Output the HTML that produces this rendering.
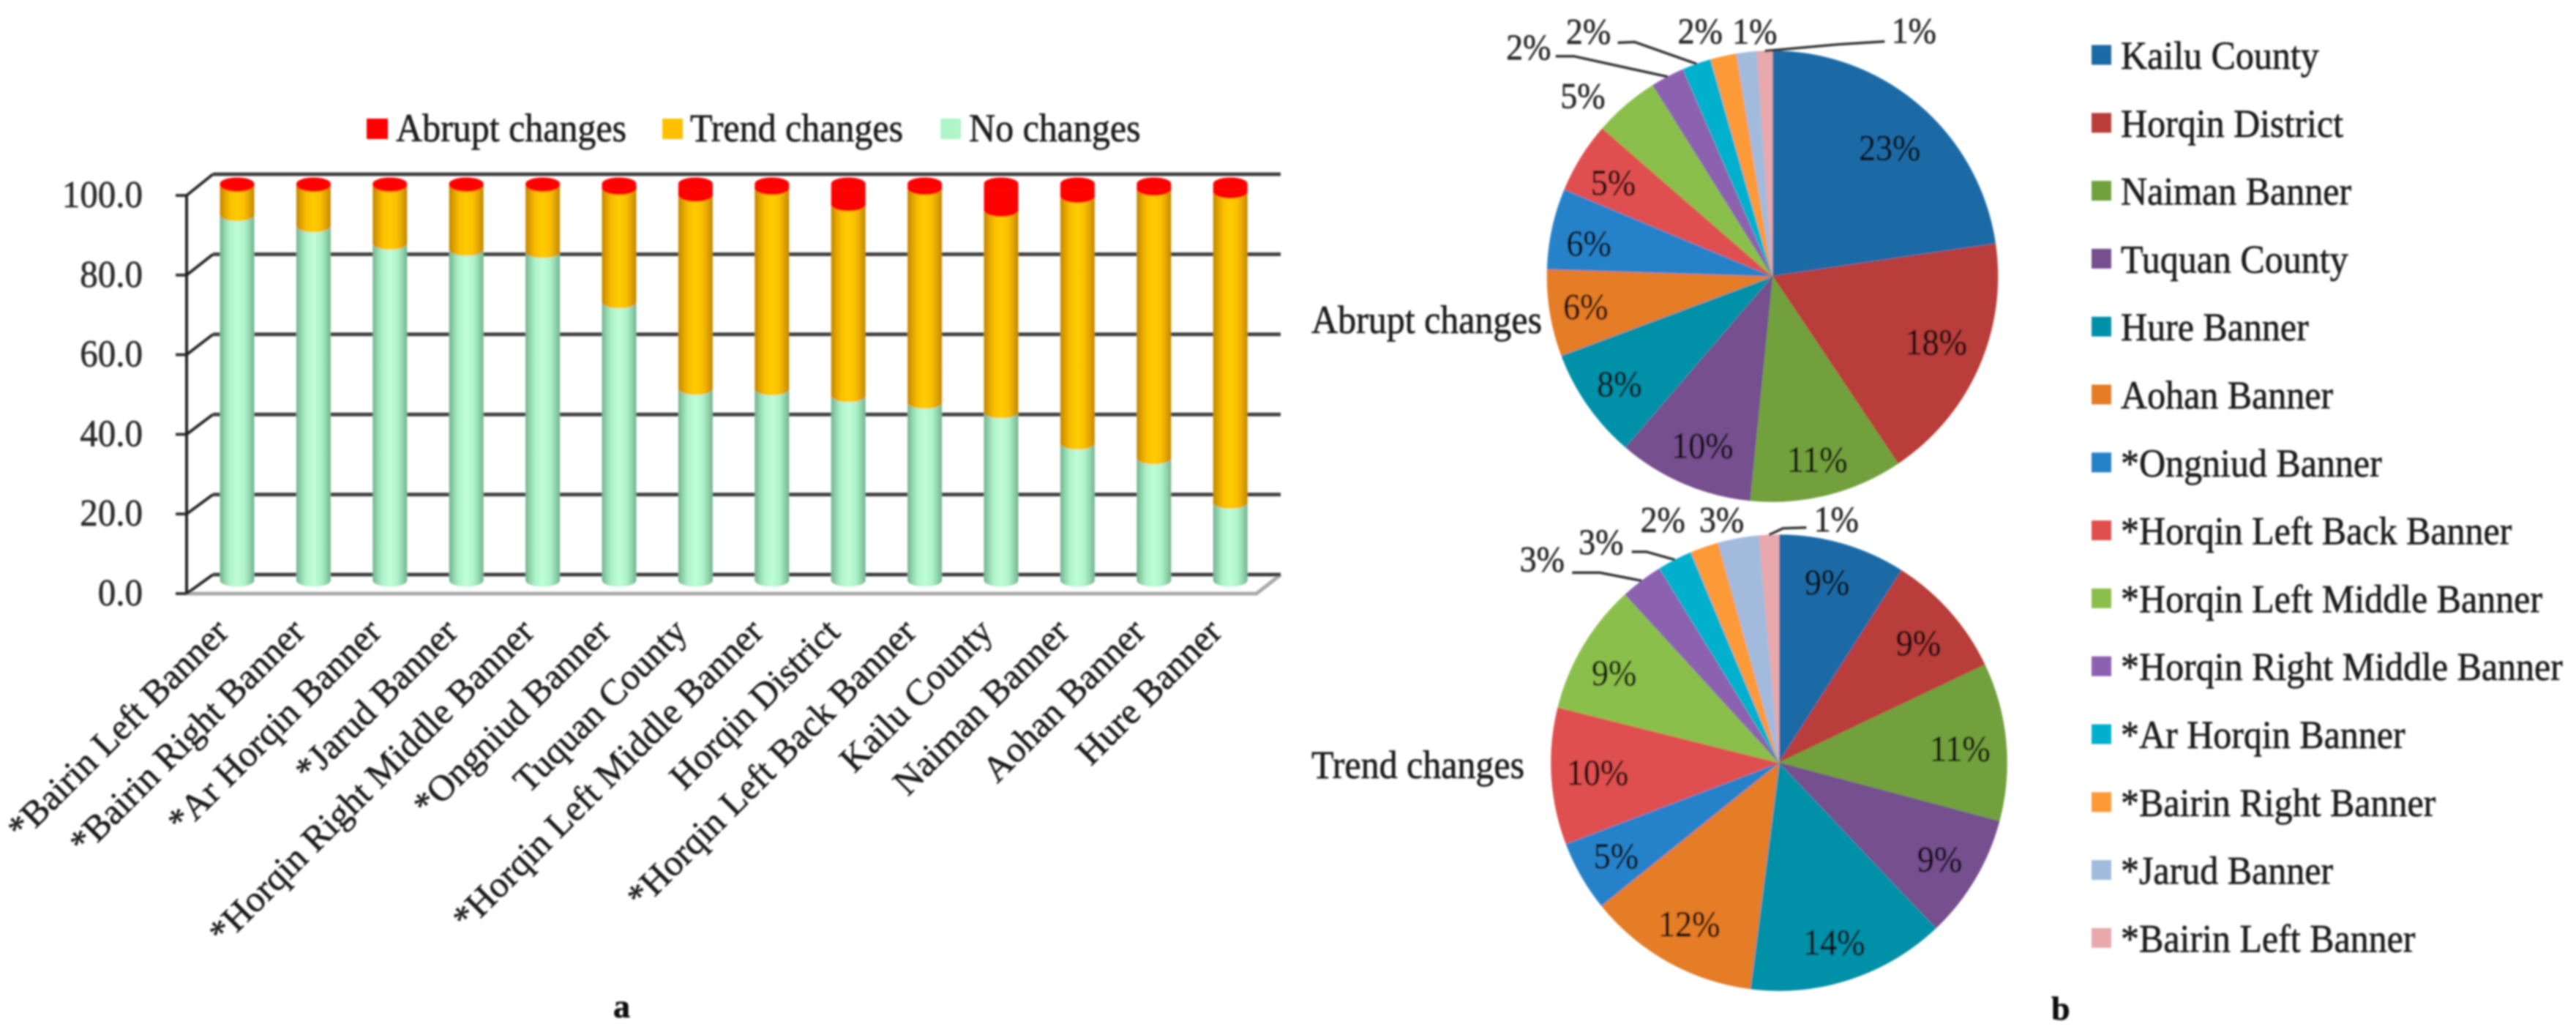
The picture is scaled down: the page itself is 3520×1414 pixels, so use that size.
<!DOCTYPE html>
<html lang="en">
<head>
<meta charset="utf-8">
<title>Abrupt and trend changes by banner and county</title>
<style>
html,body{margin:0;padding:0;background:#fff;width:3520px;height:1414px;overflow:hidden}
svg{display:block}
text{font-family:"Liberation Serif",serif;stroke-width:.6;paint-order:stroke}
</style>
</head>
<body>
<svg id="figure" xmlns="http://www.w3.org/2000/svg" width="3520" height="1414" viewBox="0 0 3520 1414">
<defs>
<filter id="soften" x="0" y="0" width="3520" height="1414" filterUnits="userSpaceOnUse"><feGaussianBlur stdDeviation="1.4"/></filter>
<linearGradient id="grad-none" x1="0" x2="1" y1="0" y2="0"><stop offset="0" stop-color="#74b28e"/><stop offset=".14" stop-color="#92d6ae"/><stop offset=".28" stop-color="#aef2ca"/><stop offset=".5" stop-color="#bffdd8"/><stop offset=".72" stop-color="#aef2ca"/><stop offset=".86" stop-color="#92d6ae"/><stop offset="1" stop-color="#74b28e"/></linearGradient>
<linearGradient id="grad-trend" x1="0" x2="1" y1="0" y2="0"><stop offset="0" stop-color="#bf8700"/><stop offset=".14" stop-color="#e0a300"/><stop offset=".3" stop-color="#fabf00"/><stop offset=".5" stop-color="#ffcc00"/><stop offset=".7" stop-color="#fabf00"/><stop offset=".86" stop-color="#e0a300"/><stop offset="1" stop-color="#bf8700"/></linearGradient>
</defs>
<g id="root" filter="url(#soften)"></g>
</svg>
<script>
// ---- Panel a data ----
const barCategories = ["*Bairin Left Banner","*Bairin Right Banner","*Ar Horqin Banner","*Jarud Banner","*Horqin Right Middle Banner","*Ongniud Banner","Tuquan County","*Horqin Left Middle Banner","Horqin District","*Horqin Left Back Banner","Kailu County","Naiman Banner","Aohan Banner","Hure Banner"];
const noChanges = [92.1,89.3,84.9,83.4,82.8,70.1,48.3,48.2,46.5,44.8,42.4,34.5,30.8,19.6];
const trendChanges = [7.4,10.2,14.6,16.1,16.7,28.6,48.7,50.5,48.1,53.9,50.8,62.2,67.7,78.2];
const abruptChanges = [0.5,0.5,0.5,0.5,0.5,1.3,3.0,1.3,5.4,1.3,6.8,3.3,1.5,2.2];
const yTicks = [0,20,40,60,80,100];
const barLegendLabels = ["Abrupt changes","Trend changes","No changes"];

// ---- Panel b data ----
const pieCategories = ["Kailu County","Horqin District","Naiman Banner","Tuquan County","Hure Banner","Aohan Banner","*Ongniud Banner","*Horqin Left Back Banner","*Horqin Left Middle Banner","*Horqin Right Middle Banner","*Ar Horqin Banner","*Bairin Right Banner","*Jarud Banner","*Bairin Left Banner"];
const abruptShares = [22.7,17.9,11,9.7,8,6.2,5.8,5.1,4.7,2.4,2.1,1.85,1.45,1.1];
const trendShares = [9.05,8.9,11.2,8.8,14.1,12.2,5,9.7,9.3,3,2.5,2,2.9,1.4];

const SVGNS = "http://www.w3.org/2000/svg";
const root = document.getElementById("root");
function make(tag, attrs, parent) {
  const n = document.createElementNS(SVGNS, tag);
  for (const k in attrs) n.setAttribute(k, attrs[k]);
  (parent || root).appendChild(n);
  return n;
}
function label(str, attrs, parent) {
  const t = make("text", attrs, parent);
  t.textContent = str;
  t.setAttribute("stroke", attrs.fill);
  return t;
}
// Source text is slightly taller than Liberation Serif's natural proportions.
const tall = (x, y, k) => `translate(${x} ${y}) scale(1 ${k}) translate(${-x} ${-y})`;

// ---- Panel a axes ----
const frontX = 255, backX = 291, backRight = 1750, frontRight = 1717;
const frontY = v => 811 - v * 5.44;
const backY = v => 785 - v * 5.47;
const barBaseY = v => 793 - v * 5.42;
const barX = i => 324 + i * 104.4;
const BAR_W = 47, BAR_RY = 8.5;

const barPanel = make("g", {});



const floor = make("path", {d:`M${frontX} ${frontY(0)}L${frontRight} ${frontY(0)}L${backRight} ${backY(0)}`, fill:"none", stroke:"#a9a9a9", "stroke-width":5}, barPanel);



yTicks.forEach(v => {
  const grid = make("line", {x1:backX, x2:backRight, y1:backY(v), y2:backY(v), stroke:"#404040", "stroke-width":5}, barPanel);
  
  
  const diag = make("line", {x1:frontX, x2:backX, y1:frontY(v), y2:backY(v), stroke:"#2a2a2a", "stroke-width":4}, barPanel);
  
  
  const tick = make("line", {x1:240, x2:frontX, y1:frontY(v), y2:frontY(v), stroke:"#333", "stroke-width":4}, barPanel);
  
  
  const ty = frontY(v) + 16;
  const tl = label(v.toFixed(1), {x:195, y:ty, "text-anchor":"end", "font-size":49, fill:"#2b2b2b", transform:tall(195, ty, 1.06)}, barPanel);
  
  
});
const yAxis = make("line", {x1:frontX, x2:frontX, y1:frontY(100), y2:frontY(0), stroke:"#222", "stroke-width":4}, barPanel);



function barSegment(cx, yBottom, yTop, fill) {
  const l = cx - BAR_W / 2, r = cx + BAR_W / 2;
  return make("path", {
    d:`M${l} ${yTop}L${l} ${yBottom}A${BAR_W/2} ${BAR_RY} 0 0 0 ${r} ${yBottom}L${r} ${yTop}A${BAR_W/2} ${BAR_RY} 0 0 1 ${l} ${yTop}Z`,
    fill:fill
  }, barPanel);
}
barCategories.forEach((name, i) => {
  const cx = barX(i);
  const a = noChanges[i], b = a + trendChanges[i], c = b + abruptChanges[i];
  const s1 = barSegment(cx, barBaseY(0), barBaseY(a), "url(#grad-none)");
  
  
  const s2 = barSegment(cx, barBaseY(a), barBaseY(b), "url(#grad-trend)");
  
  
  const s3 = barSegment(cx, barBaseY(b), barBaseY(c), "#ff0000");
  
  
  const cap = make("ellipse", {cx:cx, cy:barBaseY(c), rx:BAR_W/2, ry:BAR_RY, fill:"#ff0000"}, barPanel);
  
  
  const tx = cx - 9, ty = 866;
  const xl = label(name, {x:tx, y:ty, "text-anchor":"end", "font-size":50, fill:"#1a1a1a", transform:`rotate(-45 ${tx} ${ty})`}, barPanel);
  
  
});

// Bar legend
const legendSwatchColors = ["#ff0000","#ffc000","#aef5c8"];
const legendLayout = [[501,29,541],[905,28,943],[1285,28,1324]];
barLegendLabels.forEach((name, i) => {
  const [sx, sw, tx] = legendLayout[i];
  const sq = make("rect", {x:sx, y:162, width:sw, height:28, fill:legendSwatchColors[i]}, barPanel);
  
  
  const t = label(name, {x:tx, y:193, "font-size":50, fill:"#1a1a1a", transform:tall(tx, 193, 1.08)}, barPanel);
  
  
});
const capA = label("a", {x:838, y:1390, "font-size":46, "font-weight":"bold", fill:"#111"});



// ---- Panel b pies ----
const pieColors = ["#1a6aa5","#b83e3a","#72a03c","#75508e","#0090a8","#e57c27","#2882c8","#df4f4f","#8bbf4c","#8c62b0","#00b0cc","#fd9a38","#a2bbdd","#e8a8ac"];

// Callouts: label offset from the slice's rim point, optional elbow offset.
const abruptCallouts = {
  8:{lx:-59,ly:-12},
  9:{lx:-190,ly:-40,elbow:[-128,-28],end:[-153,-28]},
  10:{lx:-148,ly:-44,elbow:[-85,-30],end:[-108,-29]},
  11:{lx:-32,ly:-34},
  12:{lx:11,ly:-28},
  13:{lx:204,ly:-27,elbow:[100,-9],end:[164,-13]}
};
const trendCallouts = {
  9:{lx:-136,ly:-29,elbow:[-57,-11],end:[-95,-11]},
  10:{lx:-101,ly:-24,elbow:[-39,-11],end:[-59,-11]},
  11:{lx:-57,ly:-37},
  12:{lx:-23,ly:-25},
  13:{lx:92,ly:-21,elbow:[19,-9],end:[51,-10]}
};
// Small label placement tweaks relative to the default inside-slice position.
const abruptLabelNudges = {0:[-5,16],1:[-7,-12],2:[0,6],3:[4,0],4:[-2,3],5:[-6,1],6:[-4,9],7:[-3,6]};
const trendLabelNudges = {0:[-6,-1],1:[-1,6],2:[-7,5],3:[0,2],4:[-4,3],5:[2,-2],6:[-1,1],7:[7,-1],8:[-6,9]};

function drawPie(id, title, shares, cx, cy, R, callouts, nudges, titleX, titleY) {
  const g = make("g", {});
  
  
  const total = shares.reduce((s, v) => s + v, 0);
  let acc = 0;
  const pt = (a, r) => [cx + r * Math.sin(a), cy - r * Math.cos(a)];
  shares.forEach((v, i) => {
    const a0 = acc / total * 2 * Math.PI;
    acc += v;
    const a1 = acc / total * 2 * Math.PI;
    const p0 = pt(a0, R), p1 = pt(a1, R);
    const slice = make("path", {
      d:`M${cx} ${cy}L${p0[0]} ${p0[1]}A${R} ${R} 0 ${a1 - a0 > Math.PI ? 1 : 0} 1 ${p1[0]} ${p1[1]}Z`,
      fill:pieColors[i], stroke:pieColors[i], "stroke-width":0.6
    }, g);
    
    
  });
  acc = 0;
  shares.forEach((v, i) => {
    const mid = (acc + v / 2) / total * 2 * Math.PI;
    acc += v;
    const txt = Math.round(v) + "%";
    const co = callouts[i];
    let lx, ly;
    if (co) {
      const rim = pt(mid, R);
      lx = rim[0] + co.lx;
      ly = rim[1] + co.ly;
      if (co.elbow) {
        const d = `M${rim[0]} ${rim[1]}L${rim[0]+co.elbow[0]} ${rim[1]+co.elbow[1]}L${rim[0]+co.end[0]} ${rim[1]+co.end[1]}`;
        const lead = make("path", {d:d, fill:"none", stroke:"#333", "stroke-width":3.5}, g);
        
        
      }
    } else {
      const p = pt(mid, R * 0.82);
      const n = nudges[i] || [0, 0];
      lx = p[0] + n[0];
      ly = p[1] + n[1];
    }
    const by = ly + 16;
    const t = label(txt, {x:lx, y:by, "text-anchor":"middle", "font-size":46, fill: co ? "#2b2b2b" : "#0c0c0c", transform:tall(lx, by, 1.08)}, g);
    
    
  });
  const tt = label(title, {x:titleX, y:titleY, "font-size":50, fill:"#1a1a1a", transform:tall(titleX, titleY, 1.08)}, g);
  
  
}
drawPie("abrupt", "Abrupt changes", abruptShares, 2422, 377.5, 308, abruptCallouts, abruptLabelNudges, 1792, 455);
drawPie("trend", "Trend changes", trendShares, 2431, 1042, 311.5, trendCallouts, trendLabelNudges, 1792, 1063);

// Pie legend
const pieLegend = make("g", {});


pieCategories.forEach((name, i) => {
  const y = 75 + i * 92.8;
  const sq = make("rect", {x:2858, y:y - 13.5, width:27, height:27, fill:pieColors[i]}, pieLegend);
  
  
  const t = label(name, {x:2898, y:y + 19, "font-size":50, fill:"#1a1a1a", transform:tall(2898, y + 19, 1.08)}, pieLegend);
  
  
});
const capB = label("b", {x:2803, y:1393, "font-size":46, "font-weight":"bold", fill:"#111"});


</script>
</body>
</html>
